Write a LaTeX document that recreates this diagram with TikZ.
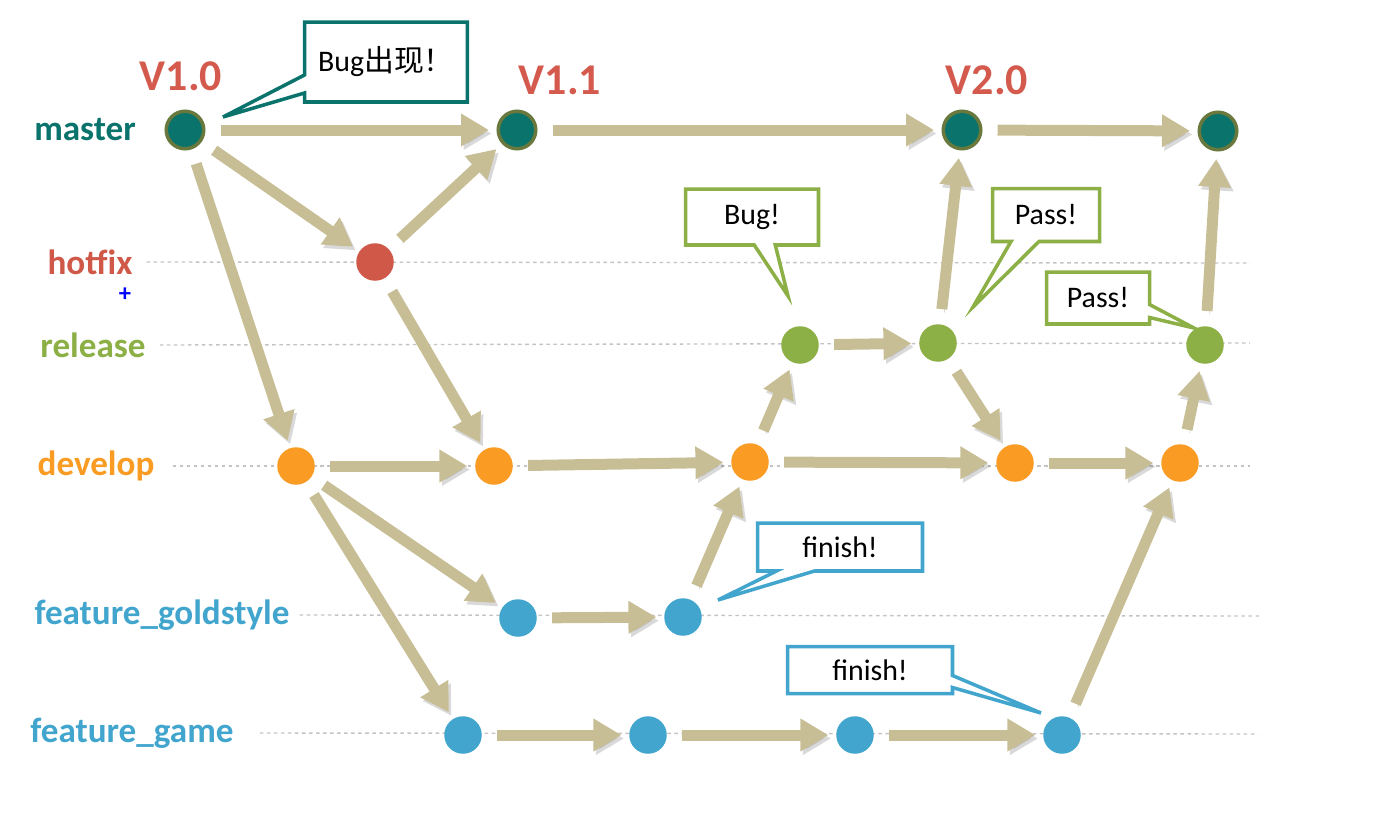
\documentclass[tikz,border=0pt]{standalone}
\usepackage{fontspec}
\setmainfont{Carlito}
\newfontfamily\cjk{Noto Sans CJK SC}
\usepackage{tikz}
\usetikzlibrary{positioning, arrows.meta, shapes.callouts}
\definecolor{arrowtan}{RGB}{200,190,150}
\definecolor{masterc}{RGB}{10,115,108}
\definecolor{masterring}{RGB}{105,120,60}
\definecolor{hotfixc}{RGB}{208,88,72}
\definecolor{releasec}{RGB}{140,175,70}
\definecolor{developc}{RGB}{250,155,35}
\definecolor{featurec}{RGB}{65,165,205}
\definecolor{versionc}{RGB}{212,90,78}
\definecolor{lanec}{RGB}{195,195,195}
\tikzstyle{arrow} = [line width=0.22cm, draw=arrowtan, -{Triangle[length=0.56cm,width=0.62cm]}, shorten >=0.15cm, shorten <=0.3cm, preaction={draw=black!60, opacity=0.25, transform canvas={shift={(0.05cm,-0.07cm)}}}]
\tikzstyle{commit} = [circle, minimum size=0.75cm, inner sep=0pt]
\tikzstyle{branch} = [font=\fontsize{20}{24}\selectfont\bfseries]
\tikzstyle{version} = [font=\fontsize{25}{30}\selectfont\bfseries, text=versionc]
\tikzstyle{lane} = [draw=lanec, line width=0.8pt, dash pattern=on 2pt off 2pt]
\tikzstyle{note} = [rectangle callout, fill=white, line width=2pt, font=\fontsize{17}{20}\selectfont]

\begin{document}
\begin{tikzpicture}[x=0.02cm, y=-0.02cm]
        \useasboundingbox (0,0) rectangle (1378,835);

        % branch names
        \node (lmaster) [branch, text=masterc] at (85,130) {master};
        \node (lhotfix) [branch, text=hotfixc] at (90,262) {hotfix};
        \node (plus) [text=blue, font=\fontsize{14}{16}\selectfont\bfseries] at (125,295) {+};
        \node (lrelease) [branch, text=releasec] at (93,345) {release};
        \node (ldevelop) [branch, text=developc] at (96,466) {develop};
        \node (lgold) [branch, text=featurec] at (162,615) {feature\_goldstyle};
        \node (lgame) [branch, text=featurec] at (132,733) {feature\_game};

        % dotted lanes
        \draw [lane] (lhotfix.east) ++(8,0) -- (1250,263);
        \draw [lane] (lrelease.east) ++(8,0) -- (1250,343);
        \draw [lane] (ldevelop.east) ++(12,0) -- (1250,466);
        \draw [lane] (lgold.east) ++(4,0) -- (1262,616);
        \draw [lane] (lgame.east) ++(20,0) -- (1258,734);

        % commits
        \node (m1) [commit, fill=masterc, draw=masterring, line width=2pt] at (185,130) {};
        \node (m2) [commit, fill=masterc, draw=masterring, line width=2pt] at (517,130) {};
        \node (m3) [commit, fill=masterc, draw=masterring, line width=2pt] at (962,130) {};
        \node (m4) [commit, fill=masterc, draw=masterring, line width=2pt] at (1218,131) {};
        \node (h1) [commit, fill=hotfixc] at (375,262) {};
        \node (r1) [commit, fill=releasec] at (800,345) {};
        \node (r2) [commit, fill=releasec] at (938,343) {};
        \node (r3) [commit, fill=releasec] at (1205,345) {};
        \node (d1) [commit, fill=developc] at (296,466) {};
        \node (d2) [commit, fill=developc] at (494,466) {};
        \node (d3) [commit, fill=developc] at (750,462) {};
        \node (d4) [commit, fill=developc] at (1015,463) {};
        \node (d5) [commit, fill=developc] at (1180,463) {};
        \node (g1) [commit, fill=featurec] at (518,618) {};
        \node (g2) [commit, fill=featurec] at (683,617) {};
        \node (f1) [commit, fill=featurec] at (463,735) {};
        \node (f2) [commit, fill=featurec] at (648,735) {};
        \node (f3) [commit, fill=featurec] at (855,735) {};
        \node (f4) [commit, fill=featurec] at (1062,735) {};

        % versions
        \node (v10) [version] at (181,76) {V1.0};
        \node (v11) [version] at (560,80) {V1.1};
        \node (v20) [version] at (987,80) {V2.0};

        \draw [arrow] (m1) -- (m2);
        \draw [arrow] (m2) -- (m3);
        \draw [arrow] (m3) -- (m4);
        \draw [arrow] (m1) -- (h1);
        \draw [arrow] (h1) -- (m2);
        \draw [arrow] (m1) -- (d1);
        \draw [arrow] (h1) -- (d2);
        \draw [arrow] (d1) -- (d2);
        \draw [arrow] (d2) -- (d3);
        \draw [arrow] (d3) -- (r1);
        \draw [arrow] (r1) -- (r2);
        \draw [arrow] (r2) -- (m3);
        \draw [arrow] (r2) -- (d4);
        \draw [arrow] (d3) -- (d4);
        \draw [arrow] (d4) -- (d5);
        \draw [arrow] (d5) -- (r3);
        \draw [arrow] (r3) -- (m4);
        \draw [arrow] (d1) -- (g1);
        \draw [arrow] (d1) -- (f1);
        \draw [arrow] (g1) -- (g2);
        \draw [arrow] (g2) -- (d3);
        \draw [arrow] (f1) -- (f2);
        \draw [arrow] (f2) -- (f3);
        \draw [arrow] (f3) -- (f4);
        \draw [arrow] (f4) -- (d5);

        % callouts
        \node (bugnote) [note, draw=masterc, minimum width=3.26cm, minimum height=1.6cm, callout pointer width=0.36cm, callout absolute pointer={(223,117)}] at (386,62) {Bug{\cjk 出现！}};
        \node (bug) [note, draw=releasec, minimum width=2.66cm, minimum height=1.12cm, callout pointer width=0.42cm, callout absolute pointer={(788,296)}] at (752,217) {Bug!};
        \node (pass1) [note, draw=releasec, minimum width=2.14cm, minimum height=1.06cm, callout pointer width=0.56cm, callout absolute pointer={(973,307)}] at (1046,215) {Pass!};
        \node (pass2) [note, draw=releasec, minimum width=2.06cm, minimum height=1.04cm, callout pointer width=0.26cm, callout absolute pointer={(1194,328)}] at (1098,298) {Pass!};
        \node (finish1) [note, draw=featurec, minimum width=3.3cm, minimum height=0.96cm, callout pointer width=0.76cm, callout absolute pointer={(718,600)}] at (840,547) {finish!};
        \node (finish2) [note, draw=featurec, minimum width=3.3cm, minimum height=0.94cm, callout pointer width=0.24cm, callout absolute pointer={(1041,713)}] at (870,670) {finish!};
        
        \end{tikzpicture}
\end{document}
